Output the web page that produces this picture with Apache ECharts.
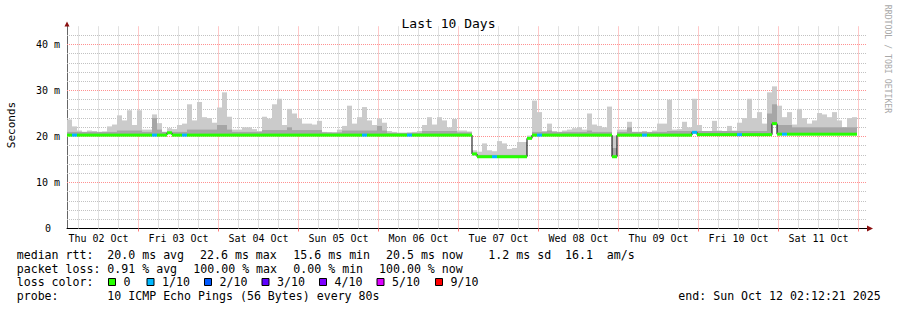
<!DOCTYPE html>
<html><head><meta charset="utf-8">
<script src="https://cdn.jsdelivr.net/npm/echarts@6.0.0/dist/echarts.min.js"></script>
<style>html,body{margin:0;padding:0;background:#fff}#c{width:897px;height:310px}</style>
</head><body><div id="c"></div>
<script>
// ---- data (times in hours after Thu 02 Oct 00:00, values in ms) ----
const startHour = 2.55;
const endHour = 242.55;
const binHours = 1.5;

const median = [
20.3,20.3,20.3,20.3,20.3,20.3,20.3,20.3,20.3,20.3,
20.3,20.3,20.3,20.3,20.3,20.3,20.3,20.3,20.3,20.3,
20.8,20.3,20.3,20.3,20.3,20.3,20.3,20.3,20.3,20.3,
20.3,20.3,20.3,20.3,20.3,20.3,20.3,20.3,20.3,20.3,
20.3,20.3,20.3,20.3,20.3,20.3,20.3,20.3,20.3,20.3,
20.3,20.3,20.3,20.3,20.3,20.3,20.3,20.3,20.3,20.3,
20.3,20.3,20.3,20.3,20.3,20.3,20.3,20.3,20.3,20.3,
20.3,20.3,20.3,20.3,20.3,20.3,20.3,20.3,20.3,20.3,
20.3,16.2,15.6,15.6,15.6,15.6,15.6,15.6,15.6,15.6,
15.6,15.6,19.6,20.3,20.3,20.3,20.3,20.3,20.3,20.3,
20.3,20.3,20.3,20.3,20.3,20.3,20.3,20.3,20.3,15.6,
20.3,20.3,20.3,20.3,20.3,20.3,20.3,20.3,20.3,20.3,
20.3,20.3,20.3,20.3,20.3,20.9,20.4,20.4,20.4,20.4,
20.4,20.4,20.4,20.4,20.4,20.4,20.4,20.4,20.4,20.4,
20.4,22.8,20.5,20.5,20.5,20.5,20.5,20.5,20.5,20.5,
20.5,20.5,20.5,20.5,20.5,20.5,20.5,20.5];

const smokeInner = [
21.0,21.0,21.0,21.0,21.0,21.0,21.0,21.0,21.0,21.0,
21.3,21.3,21.3,21.3,21.3,21.0,21.0,24.0,21.5,21.0,
21.0,21.0,21.0,21.0,21.5,21.5,21.5,21.5,21.5,21.5,
22.5,22.5,21.5,21.0,21.0,21.0,21.0,21.0,21.0,21.4,
21.4,21.4,21.4,21.4,22.0,21.4,21.4,21.4,21.4,21.4,
21.4,20.9,20.9,20.9,20.9,21.3,21.3,21.3,21.3,21.3,
21.3,21.3,22.3,21.3,20.8,20.8,20.8,20.8,20.8,20.8,
20.8,21.2,21.2,21.2,21.2,21.2,21.2,21.2,20.9,20.9,
20.9,16.5,16.0,16.0,16.0,16.0,16.0,16.0,16.0,16.0,
16.0,16.0,19.9,21.0,21.0,21.0,21.3,21.0,21.0,21.0,
21.0,21.0,21.0,21.0,21.3,21.0,21.0,21.0,21.0,17.5,
21.0,21.0,22.0,21.0,21.0,21.0,21.0,21.0,21.0,21.0,
21.2,21.2,21.2,21.2,21.2,21.2,21.2,21.2,21.2,21.2,
21.2,21.2,21.2,21.2,21.2,21.2,21.2,21.2,21.2,21.2,
25.0,27.0,22.5,22.5,22.5,22.0,22.0,22.0,22.0,22.0,
22.0,22.0,22.0,22.0,22.0,22.0,22.0,22.0];

const smokeMax = [
23.7,22.2,21.3,21.0,21.3,21.2,21.0,21.1,22.2,22.6,
24.6,23.5,25.7,22.5,25.7,21.5,21.5,24.8,22.9,21.0,
21.8,21.6,22.5,22.8,27.0,23.5,27.5,24.2,24.0,23.0,
26.3,29.6,24.3,21.5,21.5,22.0,22.0,21.6,21.2,24.3,
23.9,27.0,28.2,22.5,26.0,25.0,23.9,22.8,22.8,22.6,
23.4,21.0,20.9,20.8,21.5,22.3,26.7,22.8,24.2,26.4,
23.5,22.5,23.9,23.0,21.2,21.0,20.8,20.8,20.9,21.0,
21.2,22.5,24.2,22.6,24.2,23.5,22.0,23.8,21.3,21.3,
21.1,17.0,16.7,18.5,17.0,16.8,19.0,18.5,17.3,17.5,
18.8,18.8,20.2,27.8,25.3,21.2,22.8,21.2,21.0,21.3,
21.5,21.8,22.0,21.5,25.0,22.6,22.3,22.0,26.5,20.2,
21.5,21.5,23.2,21.0,21.0,21.2,20.9,21.3,22.8,22.8,
28.0,21.5,21.6,23.2,22.0,28.2,22.5,21.0,21.0,23.4,
21.3,21.0,22.3,21.3,23.0,24.0,28.2,24.0,25.3,22.8,
29.6,30.9,26.7,24.2,25.3,22.6,26.0,24.0,22.8,23.5,
25.1,24.8,24.2,25.3,23.5,22.0,24.0,24.2];

// index into lossLabels / lossColors
const lossLevel = [
0,1,0,0,0,0,0,0,0,0,
0,0,0,0,0,0,0,1,0,0,
0,0,0,1,0,0,0,0,0,0,
0,0,0,0,0,0,0,0,0,0,
0,0,0,0,0,0,0,0,0,0,
0,0,0,0,0,0,0,0,0,1,
0,0,0,0,0,0,0,0,1,0,
0,0,0,0,0,0,0,0,0,0,
0,0,0,0,0,1,0,0,0,0,
0,0,0,0,1,0,0,0,0,0,
0,0,0,0,0,0,0,0,0,0,
0,0,0,0,0,1,0,0,0,0,
0,0,0,0,0,1,0,0,0,0,
0,0,0,0,1,0,0,0,0,0,
0,0,0,1,0,0,0,0,0,0,
0,0,0,0,0,0,0,0];

const lossLabels = ['0','1/10','2/10','3/10','4/10','5/10','9/10'];
const lossColors = ['#26ff00','#00b8ff','#0059ff','#5e00ff','#7e00ff','#dd00ff','#ff0000'];

const dayLabels = ['Thu 02 Oct','Fri 03 Oct','Sat 04 Oct','Sun 05 Oct','Mon 06 Oct','Tue 07 Oct','Wed 08 Oct','Thu 09 Oct','Fri 10 Oct','Sat 11 Oct'];
const dayLabelHours = [12,36,60,84,108,132,156,180,204,228];
const dayLineHours = [24,48,72,96,120,144,168,192,216,240];
const minorLineHours = [6,12,18,30,36,42,54,60,66,78,84,90,102,108,114,126,132,138,150,156,162,174,180,186,198,204,210,222,228,234];
const yTickValues = [0,10,20,30,40];
const yTickLabels = ['0','10 m','20 m','30 m','40 m'];
const yMajorLines = [10,20,30,40];
const yMinorLines = [2,4,6,8,12,14,16,18,22,24,26,28,32,34,36,38,42];

const statLines = [
  ['median rtt:', ['20.0 ms avg','22.6 ms max','15.6 ms min','20.5 ms now','1.2 ms sd','16.1','am/s']],
  ['packet loss:', ['0.91 % avg','100.00 % max','0.00 % min','100.00 % now']],
  ['probe:', ['10 ICMP Echo Pings (56 Bytes) every 80s']]
];
const endText = 'end: Sun Oct 12 02:12:21 2025';

// ---- layout ----
const FONT = "'DejaVu Sans Mono', monospace";
const LFONT = '11.6px ' + FONT;
const statX = [[107.3,200,293.3,386,488.3,565,606.7],[107.3,193.3,293.3,379],[107.3]];
const statY = [254.5,268.5,296];
const lossBoxX = [108.5,147,204.5,262,319.5,377,435.5];

const bins = median.map((m,i)=>[startHour+i*binHours, startHour+(i+1)*binHours, m, smokeInner[i], smokeMax[i], lossLevel[i]]);
const stepData = median.map((m,i)=>[startHour+i*binHours, m]);
stepData.push([startHour+median.length*binHours, median[median.length-1]]);

const RED = '#ff9090';
const GRAY = '#c2c2c2';
const gridMarks = [];
minorLineHours.forEach(h=>gridMarks.push({xAxis:h, lineStyle:{color:GRAY,type:[1,1],width:1}}));
yMinorLines.forEach(v=>gridMarks.push({yAxis:v, lineStyle:{color:GRAY,type:[1,1],width:1}}));
dayLineHours.forEach(h=>gridMarks.push({xAxis:h, lineStyle:{color:RED,type:[1,1],width:1}}));
yMajorLines.forEach(v=>gridMarks.push({yAxis:v, lineStyle:{color:RED,type:[1,1],width:1}}));

const graphic = [];
statLines.forEach((ln,li)=>{
  graphic.push({type:'text', x:16.7, y:statY[li], style:{text:ln[0], font:LFONT, fill:'#000', verticalAlign:'middle'}});
  ln[1].forEach((t,k)=>graphic.push({type:'text', x:statX[li][k], y:statY[li], style:{text:t, font:LFONT, fill:'#000', verticalAlign:'middle'}}));
});
graphic.push({type:'text', x:678.3, y:296, style:{text:endText, font:LFONT, fill:'#000', verticalAlign:'middle'}});
graphic.push({type:'text', x:16.7, y:282, style:{text:'loss color:', font:LFONT, fill:'#000', verticalAlign:'middle'}});
lossLabels.forEach((lab,k)=>{
  graphic.push({type:'rect', shape:{x:lossBoxX[k], y:278.5, width:7, height:7}, style:{fill:lossColors[k], stroke:'#000', lineWidth:1}});
  graphic.push({type:'text', x:lossBoxX[k]+15, y:282, style:{text:lab, font:LFONT, fill:'#000', verticalAlign:'middle'}});
});
graphic.push({type:'text', x:11, y:125, rotation:Math.PI/2, style:{text:'Seconds', font:'11px '+FONT, fill:'#000', align:'center', verticalAlign:'middle'}});
graphic.push({type:'text', x:888, y:59, rotation:-Math.PI/2, style:{text:'RRDTOOL / TOBI OETIKER', font:'8.2px '+FONT, fill:'#a8a8a8', align:'center', verticalAlign:'middle'}});

const chart = echarts.init(document.getElementById('c'), null, {renderer:'svg'});
chart.setOption({
  animation:false,
  backgroundColor:'#fff',
  title:{text:'Last 10 Days', left:'center', top:12, textStyle:{fontFamily:FONT, fontSize:13, fontWeight:'normal', color:'#000'}},
  grid:{left:67, top:26.1, width:800, height:202.4, outerBoundsMode:'none'},
  xAxis:[
    {type:'value', min:startHour, max:endHour, position:'bottom',
     axisLine:{show:true, lineStyle:{color:'#000', width:1}},
     axisTick:{show:true, customValues:dayLineHours, length:3, lineStyle:{color:'rgba(255,0,0,0.5)'}},
     axisLabel:{customValues:dayLabelHours, formatter:v=>dayLabels[dayLabelHours.indexOf(v)], fontFamily:FONT, fontSize:10, color:'#000', margin:5},
     splitLine:{show:false}},
    {type:'value', min:startHour, max:endHour, position:'bottom',
     axisLine:{show:true, symbol:['none','triangle'], symbolSize:[6,6], symbolOffset:[0,3], lineStyle:{color:'#8b1010', width:0.01}},
     axisTick:{show:false}, axisLabel:{show:false}, splitLine:{show:false}}
  ],
  yAxis:[
    {type:'value', min:0, max:44, position:'left',
     axisLine:{show:true, lineStyle:{color:'#666', width:1}},
     axisTick:{show:false},
     axisLabel:{customValues:yTickValues, formatter:v=>yTickLabels[yTickValues.indexOf(v)], fontFamily:FONT, fontSize:10, color:'#000', margin:19, align:'center'},
     splitLine:{show:false}},
    {type:'value', min:0, max:44, position:'left',
     axisLine:{show:true, symbol:['none','triangle'], symbolSize:[5,5], symbolOffset:[0,2], lineStyle:{color:'#8b1010', width:0.01}},
     axisTick:{show:false}, axisLabel:{show:false}, splitLine:{show:false}}
  ],
  graphic: graphic,
  series:[
    {type:'custom', name:'smoke', xAxisIndex:0, yAxisIndex:0, z:2, silent:true,
     data:bins, encode:{x:[0,1], y:[2,3,4]},
     renderItem:(params, api)=>{
       const t0=api.value(0), t1=api.value(1), m=api.value(2), inner=api.value(3), mx=api.value(4);
       const pTop=api.coord([t0,mx]), pIn=api.coord([t0,inner]), pBot=api.coord([t1,m]);
       return {type:'group', children:[
         {type:'rect', shape:{x:pTop[0], y:pTop[1], width:pBot[0]-pTop[0], height:Math.max(0,pBot[1]-pTop[1])}, style:{fill:'#cbcbcb'}},
         {type:'rect', shape:{x:pIn[0], y:pIn[1], width:pBot[0]-pIn[0], height:Math.max(0,pBot[1]-pIn[1])}, style:{fill:'#a6a6a6'}}
       ]};
     }},
    {type:'line', name:'median step', xAxisIndex:0, yAxisIndex:0, z:3, silent:true,
     data:stepData, step:'end', showSymbol:false, symbol:'none',
     lineStyle:{color:'#000', width:1},
     markLine:{silent:true, z:1, symbol:['none','none'], label:{show:false}, animation:false, data:gridMarks}},
    {type:'custom', name:'median', xAxisIndex:0, yAxisIndex:0, z:4, silent:true,
     data:bins, encode:{x:[0,1], y:2},
     renderItem:(params, api)=>{
       const t0=api.value(0), t1=api.value(1), m=api.value(2), loss=api.value(5);
       const a=api.coord([t0,m]), b=api.coord([t1,m]);
       return {type:'rect', shape:{x:a[0], y:a[1]-1.5, width:b[0]-a[0], height:3}, style:{fill:lossColors[loss]}};
     }}
  ]
});
</script>
</body></html>
